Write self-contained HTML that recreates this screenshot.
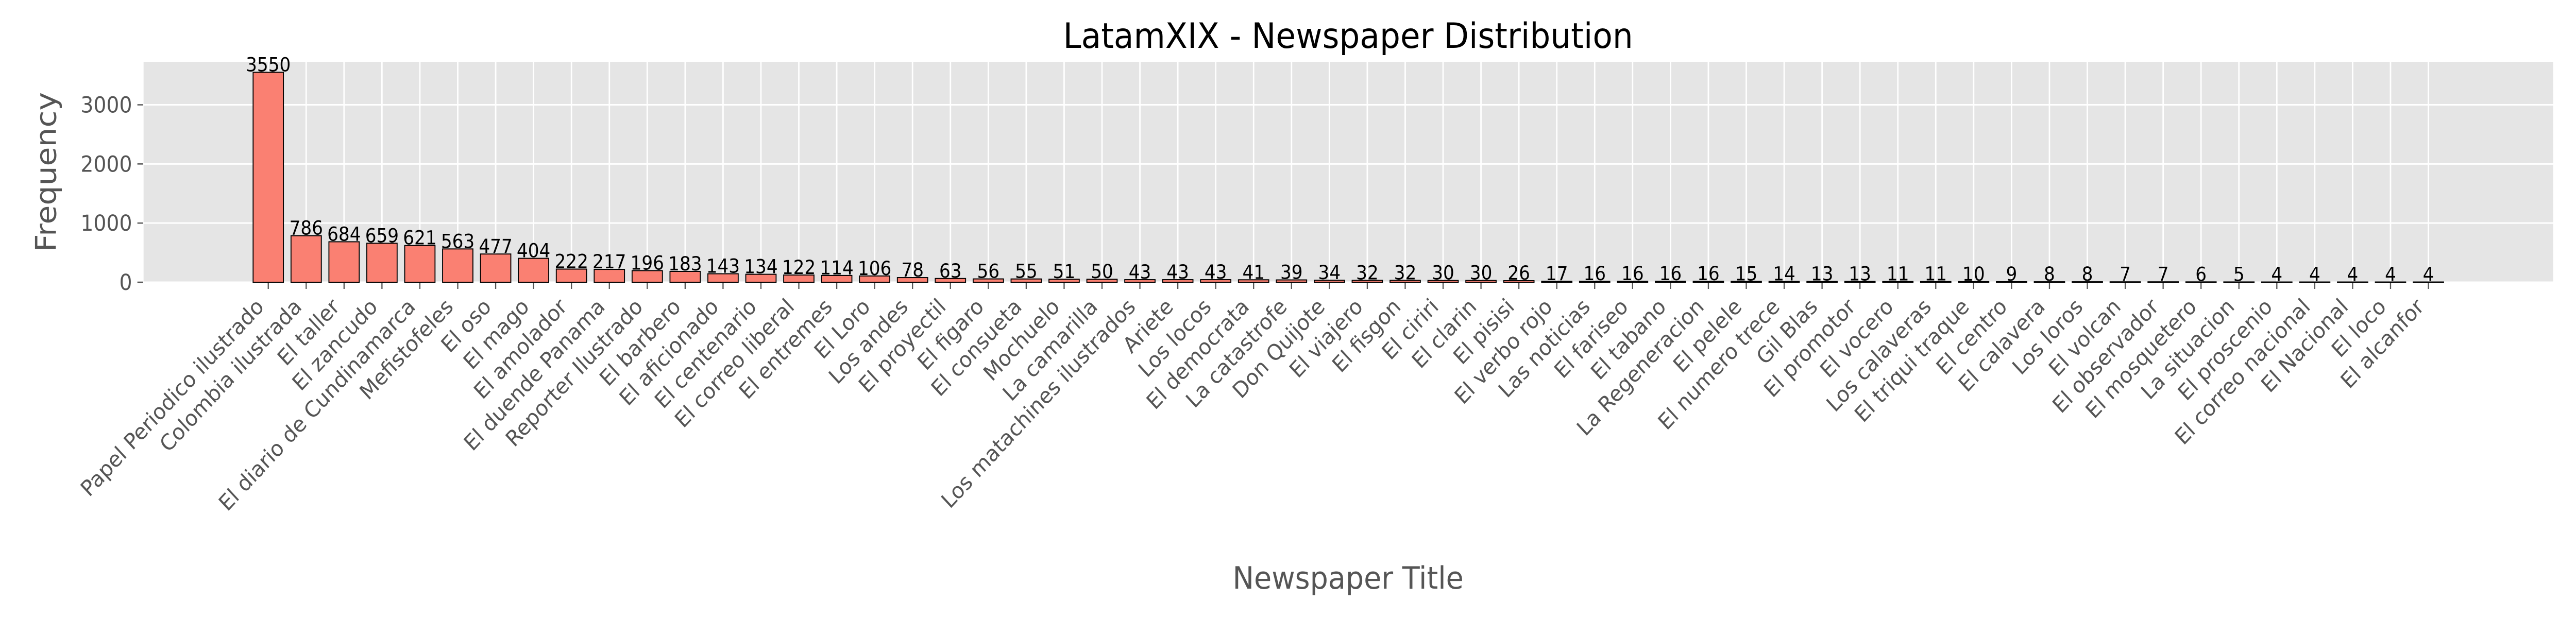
<!DOCTYPE html>
<html><head><meta charset="utf-8">
<style>
html,body{margin:0;padding:0;background:#fff;width:100vw;height:100vh;overflow:hidden;}
svg{display:block;position:absolute;left:0;top:0;width:100vw;height:100vh;font-family:"DejaVu Sans","Liberation Sans",sans-serif;}
</style></head>
<body>
<svg id="chart" viewBox="0 0 5400 1200" preserveAspectRatio="none" xmlns="http://www.w3.org/2000/svg">
<rect x="0" y="0" width="5400" height="1200" fill="#ffffff"/>
<rect x="301" y="120" width="5051" height="428" fill="#E5E5E5"/>
<g id="grid"></g>
<g id="bars"></g>
<g id="ticks"></g>
<text x="2826" y="93" font-size="68" text-anchor="middle" fill="#000">LatamXIX - Newspaper Distribution</text>
<text x="2826" y="1143" font-size="60" text-anchor="middle" fill="#555555">Newspaper Title</text>
<text x="117" y="334" font-size="60" text-anchor="middle" fill="#555555" transform="rotate(-90 117 334)">Frequency</text>
</svg>
<script>
const categories = ["Papel Periodico ilustrado","Colombia ilustrada","El taller","El zancudo","El diario de Cundinamarca","Mefistofeles","El oso","El mago","El amolador","El duende Panama","Reporter Ilustrado","El barbero","El aficionado","El centenario","El correo liberal","El entremes","El Loro","Los andes","El proyectil","El figaro","El consueta","Mochuelo","La camarilla","Los matachines ilustrados","Ariete","Los locos","El democrata","La catastrofe","Don Quijote","El viajero","El fisgon","El ciriri","El clarin","El pisisi","El verbo rojo","Las noticias","El fariseo","El tabano","La Regeneracion","El pelele","El numero trece","Gil Blas","El promotor","El vocero","Los calaveras","El triqui traque","El centro","El calavera","Los loros","El volcan","El observador","El mosquetero","La situacion","El proscenio","El correo nacional","El Nacional","El loco","El alcanfor"];
const counts = [3550,786,684,659,621,563,477,404,222,217,196,183,143,134,122,114,106,78,63,56,55,51,50,43,43,43,41,39,34,32,32,30,30,26,17,16,16,16,16,15,14,13,13,11,11,10,9,8,8,7,7,6,5,4,4,4,4,4];
const yTicks = [0,1000,2000,3000];

const NS = "http://www.w3.org/2000/svg";
const L = 301, R = 5352, T = 120, B = 548;
const n = categories.length;
const xmin = -0.4 - 0.05*(n-0.2), xmax = (n-1)+0.4 + 0.05*(n-0.2);
const ymax = Math.max(...counts)*1.05;
function xs(i){ return L + (i - xmin)/(xmax - xmin)*(R - L); }
function ys(v){ return B - v/ymax*(B - T); }
function mk(tag, attrs, parent){ const e = document.createElementNS(NS, tag); for (const k in attrs) e.setAttribute(k, attrs[k]); parent.appendChild(e); return e; }
const grid = document.getElementById('grid'), barsG = document.getElementById('bars'), ticksG = document.getElementById('ticks');
const unit = (R - L)/(xmax - xmin);

yTicks.forEach(v => {
  const y = ys(v);
  const gl = mk('line', {x1:L, x2:R, y1:y, y2:y, stroke:'#ffffff', 'stroke-width':3}, grid);
  
  
  const tm = mk('line', {x1:L-13, x2:L-1, y1:y, y2:y, stroke:'#555555', 'stroke-width':2.5}, ticksG);
  
  
  const tl = mk('text', {x:L-24, y:y+15, 'font-size':42.5, 'text-anchor':'end', fill:'#555555'}, ticksG);
  tl.textContent = v;
  
  
});

categories.forEach((c, i) => {
  const cx = xs(i);
  const gl = mk('line', {x1:cx, x2:cx, y1:T, y2:B, stroke:'#ffffff', 'stroke-width':3}, grid);
  
  
  const w = 0.8*unit, y = ys(counts[i]);
  const bar = mk('rect', {x:cx - w/2, y:y, width:w, height:B - y, fill:'#FA8072', stroke:'#000', 'stroke-width':2}, barsG);
  
  
  const vl = mk('text', {x:cx, y:y - 2, 'font-size':37, 'text-anchor':'middle', fill:'#000'}, barsG);
  vl.textContent = counts[i];
  
  
  const tm = mk('line', {x1:cx, x2:cx, y1:B+1, y2:B+13, stroke:'#555555', 'stroke-width':2.5}, ticksG);
  
  
  const ax = cx - 7, ay = 598;
  const tl = mk('text', {x:ax, y:ay, 'font-size':42.5, 'text-anchor':'end', fill:'#555555', transform:'rotate(-45 '+ax+' '+ay+')'}, ticksG);
  tl.textContent = c;
  
  
});
</script>
</body></html>
